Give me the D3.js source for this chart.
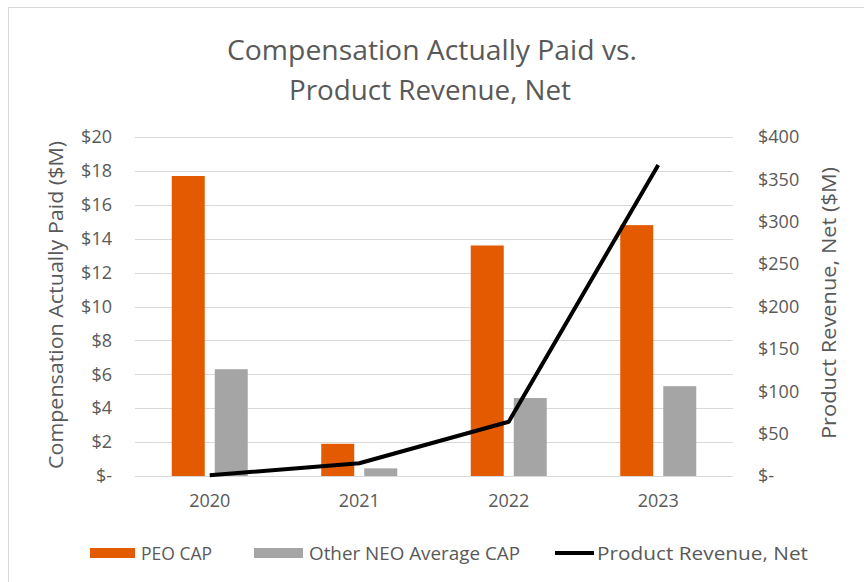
<!DOCTYPE html>
<html>
<head>
<meta charset="utf-8">
<script src="https://cdn.jsdelivr.net/npm/d3@7"></script>
<style>
  body { margin: 0; background: #fff; }
  text { font-family: "Open Sans", sans-serif; fill: #595959; }
</style>
</head>
<body>
<script>
var width = 864;
var height = 582;

// data
var years = ["2020", "2021", "2022", "2023"]
var peoCap = [17.7, 1.9, 13.6, 14.8]
var neoCap = [6.3, 0.45, 4.6, 5.3]
var revenue = [1, 15, 64, 367]
var leftTicks = [0, 2, 4, 6, 8, 10, 12, 14, 16, 18, 20]
var rightTicks = [0, 50, 100, 150, 200, 250, 300, 350, 400]
var seriesNames = ["PEO CAP", "Other NEO Average CAP", "Product Revenue, Net"]
var colors = ["#e35a00", "#a5a5a5", "#000000"]

var plotLeft = 135, plotRight = 733, plotTop = 137, plotBottom = 476;

var svg = d3.select("body").append("svg")
  .attr("width", width)
  .attr("height", height)

// chart frame
svg.append("line").attr("x1", 8).attr("x2", width).attr("y1", 7.5).attr("y2", 7.5)
  .attr("stroke", "#d9d9d9")
svg.append("line").attr("x1", 8.5).attr("x2", 8.5).attr("y1", 7).attr("y2", height)
  .attr("stroke", "#d9d9d9")

var x0 = d3.scaleBand()
  .domain(years)
  .range([plotLeft, plotRight])
  .padding(0)

var x1 = d3.scaleBand()
  .domain([0, 1])
  .range([x0.bandwidth() / 2 - 38, x0.bandwidth() / 2 + 38])
  .paddingInner(0.233)

var yL = d3.scaleLinear()
  .domain([0, 20])
  .range([plotBottom, plotTop])

var yR = d3.scaleLinear()
  .domain([0, 400])
  .range([plotBottom, plotTop])

var money = function(d) { return d == 0 ? "$-" : "$" + d }

// gridlines
svg.append("g")
  .selectAll("line")
  .data(leftTicks)
  .enter().append("line")
  .attr("x1", plotLeft)
  .attr("x2", plotRight)
  .attr("y1", function(d) { return Math.round(yL(d)) + 0.5 })
  .attr("y2", function(d) { return Math.round(yL(d)) + 0.5 })
  .attr("stroke", "#d9d9d9")

// left axis
var leftAxis = svg.append("g")
  .attr("transform", "translate(" + plotLeft + ",0)")
  .call(d3.axisLeft(yL).tickValues(leftTicks).tickFormat(money).tickSize(0).tickPadding(23))
leftAxis.select(".domain").remove()
leftAxis.selectAll("text").style("font-size", "18px").style("font-family", "Open Sans").attr("fill", "#595959")

// right axis
var rightAxis = svg.append("g")
  .attr("transform", "translate(" + plotRight + ",0)")
  .call(d3.axisRight(yR).tickValues(rightTicks).tickFormat(money).tickSize(0).tickPadding(25))
rightAxis.select(".domain").remove()
rightAxis.selectAll("text").style("font-size", "18px").style("font-family", "Open Sans").attr("fill", "#595959")

// category axis
var bottomAxis = svg.append("g")
  .attr("transform", "translate(0," + plotBottom + ")")
  .call(d3.axisBottom(x0).tickSize(0).tickPadding(18))
bottomAxis.select(".domain").remove()
bottomAxis.selectAll("text").style("font-size", "18px").style("font-family", "Open Sans").attr("fill", "#595959")

// bars
var groups = svg.append("g")
  .selectAll("g")
  .data(years)
  .enter().append("g")
  .attr("transform", function(d) { return "translate(" + x0(d) + ",0)" })

groups.selectAll("rect")
  .data(function(d, i) { return [peoCap[i], neoCap[i]] })
  .enter().append("rect")
  .attr("x", function(d, j) { return x1(j) })
  .attr("width", x1.bandwidth())
  .attr("y", function(d) { return yL(d) })
  .attr("height", function(d) { return yL(0) - yL(d) })
  .attr("fill", function(d, j) { return colors[j] })

// revenue line
var line = d3.line()
  .x(function(d, i) { return x0(years[i]) + x0.bandwidth() / 2 })
  .y(function(d) { return yR(d) })

svg.append("path")
  .datum(revenue)
  .attr("d", line)
  .attr("fill", "none")
  .attr("stroke", colors[2])
  .attr("stroke-width", 4)
  .attr("stroke-linejoin", "round")

// title
svg.append("text")
  .attr("x", 432).attr("y", 60)
  .attr("text-anchor", "middle")
  .style("font-size", "28px")
  .attr("textLength", 410)
  .attr("lengthAdjust", "spacingAndGlyphs")
  .text("Compensation Actually Paid vs.")
svg.append("text")
  .attr("x", 430).attr("y", 100)
  .attr("text-anchor", "middle")
  .style("font-size", "28px")
  .attr("textLength", 282)
  .attr("lengthAdjust", "spacingAndGlyphs")
  .text("Product Revenue, Net")

// axis titles
svg.append("text")
  .attr("transform", "translate(63,305) rotate(-90)")
  .attr("text-anchor", "middle")
  .style("font-size", "20px")
  .attr("textLength", 328)
  .attr("lengthAdjust", "spacingAndGlyphs")
  .text("Compensation Actually Paid ($M)")
svg.append("text")
  .attr("transform", "translate(836,303) rotate(-90)")
  .attr("text-anchor", "middle")
  .style("font-size", "20px")
  .attr("textLength", 272)
  .attr("lengthAdjust", "spacingAndGlyphs")
  .text("Product Revenue, Net ($M)")

// legend
var legendX = [90, 254, 555]
var legendW = [45, 49, 39]
var legendTextW = [71, 211, 211]
var legend = svg.append("g")
  .selectAll("g")
  .data(seriesNames)
  .enter().append("g")
  .attr("transform", function(d, i) { return "translate(" + legendX[i] + ",553)" })

legend.append("rect")
  .attr("x", 0)
  .attr("y", function(d, i) { return i == 2 ? -2 : -5 })
  .attr("width", function(d, i) { return legendW[i] })
  .attr("height", function(d, i) { return i == 2 ? 4 : 10 })
  .attr("fill", function(d, i) { return colors[i] })

legend.append("text")
  .attr("x", function(d, i) { return legendW[i] + (i == 2 ? 3 : 6) })
  .attr("y", 7)
  .style("font-size", "19px")
  .attr("textLength", function(d, i) { return legendTextW[i] })
  .attr("lengthAdjust", "spacingAndGlyphs")
  .text(function(d) { return d })
</script>
</body>
</html>
